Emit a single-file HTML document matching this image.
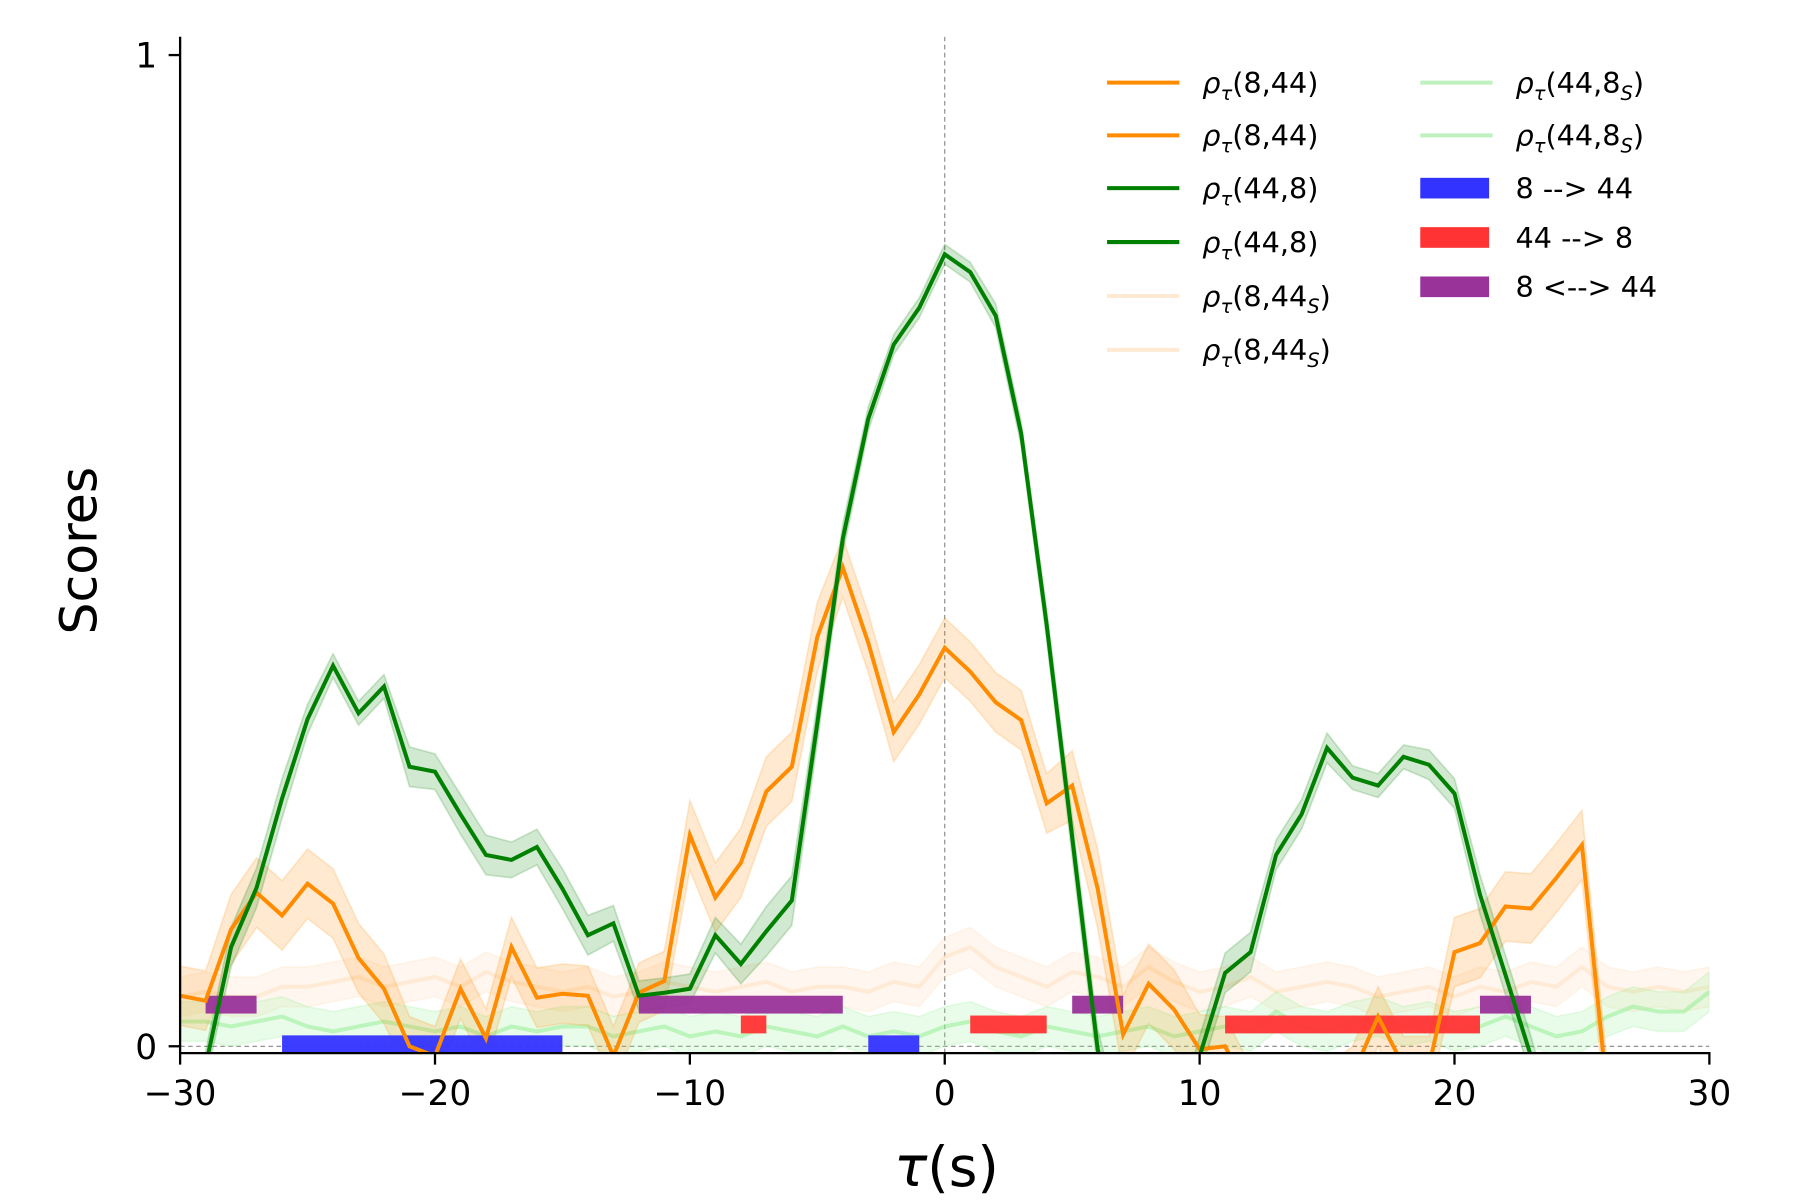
<!DOCTYPE html>
<html><head><meta charset="utf-8"><style>
html,body{margin:0;padding:0;background:#fff;}
svg{display:block;font-family:"DejaVu Sans","Liberation Sans",sans-serif;}
</style></head><body>
<svg id="chart" width="1800" height="1200" viewBox="0 0 1569 1046" xmlns="http://www.w3.org/2000/svg">
<defs><clipPath id="plotclip"><rect x="157" y="32" width="1333" height="886"/></clipPath></defs>
<g id="plot" clip-path="url(#plotclip)"></g>
<g id="axes"></g>
<g id="legend"></g>
</svg>
<script>
const taus = [-30,-29,-28,-27,-26,-25,-24,-23,-22,-21,-20,-19,-18,-17,-16,-15,-14,-13,-12,-11,-10,-9,-8,-7,-6,-5,-4,-3,-2,-1,0,1,2,3,4,5,6,7,8,9,10,11,12,13,14,15,16,17,18,19,20,21,22,23,24,25,26,27,28,29,30];
const green = [-0.15,-0.02,0.1,0.16,0.25,0.33,0.384,0.336,0.363,0.282,0.277,0.234,0.193,0.188,0.201,0.159,0.112,0.124,0.051,0.054,0.058,0.112,0.083,0.116,0.147,0.326,0.512,0.633,0.708,0.745,0.799,0.781,0.737,0.618,0.425,0.211,-0.003,-0.1,-0.1,-0.1,-0.01,0.074,0.095,0.193,0.234,0.301,0.271,0.263,0.292,0.284,0.255,0.153,0.072,-0.01,-0.1,-0.1,-0.1,-0.1,-0.1,-0.1,-0.1];
const greenErr = [0.015,0.015,0.02,0.02,0.02,0.015,0.012,0.012,0.012,0.02,0.018,0.02,0.02,0.018,0.018,0.02,0.02,0.018,0.015,0.015,0.015,0.018,0.02,0.025,0.025,0.02,0.015,0.012,0.01,0.01,0.01,0.01,0.012,0.012,0.015,0.02,0.02,0.02,0.02,0.02,0.02,0.02,0.02,0.015,0.015,0.015,0.012,0.012,0.012,0.015,0.015,0.02,0.02,0.02,0.02,0.02,0.02,0.02,0.02,0.02,0.02];
const orange = [0.051,0.046,0.118,0.155,0.132,0.164,0.144,0.089,0.058,0,-0.01,0.058,0.008,0.1,0.049,0.053,0.051,-0.01,0.054,0.066,0.213,0.15,0.185,0.257,0.282,0.413,0.483,0.407,0.317,0.355,0.402,0.378,0.347,0.329,0.245,0.263,0.159,0.012,0.063,0.037,-0.003,0,-0.05,-0.05,-0.05,-0.05,-0.03,0.03,-0.02,-0.02,0.095,0.104,0.141,0.139,0.17,0.203,-0.05,-0.05,-0.05,-0.05,-0.05];
const orangeErr = [0.03,0.03,0.035,0.035,0.035,0.035,0.035,0.035,0.035,0.03,0.03,0.03,0.03,0.03,0.03,0.03,0.03,0.03,0.03,0.03,0.035,0.035,0.035,0.035,0.035,0.035,0.03,0.03,0.03,0.03,0.03,0.03,0.03,0.03,0.03,0.035,0.04,0.04,0.04,0.04,0.035,0.03,0.03,0.03,0.03,0.03,0.03,0.03,0.03,0.03,0.035,0.035,0.035,0.035,0.035,0.035,0.03,0.03,0.03,0.03,0.03];
const orangeSur = [0.05,0.055,0.05,0.05,0.06,0.06,0.065,0.07,0.06,0.065,0.07,0.06,0.075,0.065,0.06,0.055,0.06,0.05,0.055,0.065,0.06,0.055,0.06,0.065,0.055,0.06,0.06,0.055,0.065,0.06,0.09,0.1,0.08,0.07,0.06,0.075,0.07,0.06,0.08,0.065,0.055,0.06,0.07,0.055,0.06,0.065,0.06,0.05,0.055,0.06,0.05,0.06,0.055,0.065,0.06,0.08,0.06,0.055,0.06,0.055,0.06];
const greenSur = [0.025,0.025,0.02,0.025,0.03,0.02,0.015,0.02,0.025,0.02,0.015,0.02,0.01,0.02,0.015,0.02,0.02,0.01,0.015,0.02,0.01,0.015,0.01,0.02,0.015,0.01,0.02,0.01,0.015,0.01,0.02,0.025,0.015,0.01,0.02,0.015,0.01,0.015,0.02,0.01,0.015,0.02,0.015,0.035,0.02,0.015,0.025,0.03,0.02,0.025,0.015,0.02,0.03,0.02,0.01,0.015,0.03,0.04,0.035,0.035,0.055];
const barStarts = [-26,-3,-8,1,11,-29,-12,5,21];
const barEnds = [-15,-1,-7,4,21,-27,-4,7,23];
const barKinds = [0,0,1,1,1,2,2,2,2];
const barLevels = [0.002,0.022,0.042];
const barColors = ['#3333ff','#ff3333','#993399'];
const xTicks = [-30,-20,-10,0,10,20,30];
const xTickLabels = ['\u221230','\u221220','\u221210','0','10','20','30'];
const yTicks = [0,1];
const yTickLabels = ['0','1'];

const NS='http://www.w3.org/2000/svg';
const X0=157,X1=1490,Y0=912,Y1=48;
function sx(t){return X0+(t+30)/60*(X1-X0);}
function sy(v){return Y0-v*(Y0-Y1);}
function mk(tag,attrs,parent){const e=document.createElementNS(NS,tag);for(const k in attrs)e.setAttribute(k,attrs[k]);parent.appendChild(e);return e;}
const plot=document.getElementById('plot'),axes=document.getElementById('axes'),legend=document.getElementById('legend');

let e=mk('line',{x1:sx(0),x2:sx(0),y1:32,y2:918,stroke:'#888','stroke-width':1,'stroke-dasharray':'4,3'},plot);


e=mk('line',{x1:X0,x2:X1,y1:sy(0),y2:sy(0),stroke:'#888','stroke-width':1,'stroke-dasharray':'4,3'},plot);



function band(vals,err,color,op,name){
  let up=taus.map((t,i)=>sx(t)+','+sy(vals[i]+err[i]));
  let dn=taus.map((t,i)=>sx(t)+','+sy(vals[i]-err[i])).reverse();
  const p=mk('polygon',{points:up.concat(dn).join(' '),fill:color,'fill-opacity':op,stroke:color,'stroke-opacity':op,'stroke-width':1.5},plot);
  
  
}
function line(vals,color,op,w,name){
  const p=mk('polyline',{points:taus.map((t,i)=>sx(t)+','+sy(vals[i])).join(' '),fill:'none',stroke:color,'stroke-opacity':op,'stroke-width':w,'stroke-linejoin':'miter'},plot);
  
  
}
const surErr=taus.map(()=>0.02);
band(orangeSur,surErr,'#ffa54f',0.09,'orange-surrogate-band');
line(orangeSur,'#ffe0c0',0.55,3.5,'orange-surrogate-line');
band(greenSur,surErr,'#90ee90',0.2,'green-surrogate-band');
line(greenSur,'#90ee90',0.5,3.5,'green-surrogate-line');
band(orange,orangeErr,'#ff8c00',0.18,'orange-band');
band(green,greenErr,'#008000',0.18,'green-band');

for(let i=0;i<barStarts.length;i++){
  const k=barKinds[i],h=0.018;
  const r=mk('rect',{x:sx(barStarts[i]),width:sx(barEnds[i])-sx(barStarts[i]),y:sy(barLevels[k]+h/2),height:h*(Y0-Y1),fill:barColors[k],'fill-opacity':0.95},plot);
  
  
}
line(orange,'#ff8c00',1,3.5,'orange-line-8-44');
line(green,'#008000',1,3.5,'green-line-44-8');

e=mk('line',{x1:X0,x2:X0,y1:32,y2:918,stroke:'#000','stroke-width':2},axes);


e=mk('line',{x1:X0-1,x2:X1+1,y1:918,y2:918,stroke:'#000','stroke-width':2},axes);


xTicks.forEach((t,i)=>{
  let l=mk('line',{x1:sx(t),x2:sx(t),y1:918,y2:928,stroke:'#000','stroke-width':2},axes);
  
  
  let tx=mk('text',{x:sx(t),y:963,'text-anchor':'middle','font-size':30},axes);
  tx.textContent=xTickLabels[i];
  
  
});
yTicks.forEach((v,i)=>{
  let l=mk('line',{x1:X0-10,x2:X0,y1:sy(v),y2:sy(v),stroke:'#000','stroke-width':2},axes);
  
  
  let tx=mk('text',{x:X0-20,y:sy(v)+11,'text-anchor':'end','font-size':30},axes);
  tx.textContent=yTickLabels[i];
  
  
});
e=mk('text',{x:0,y:0,'text-anchor':'middle','font-size':44,transform:'translate(84,480) rotate(-90)'},axes);
e.textContent='Scores';


e=mk('text',{x:825,y:1034,'text-anchor':'middle','font-size':48},axes);
e.innerHTML='<tspan font-style="italic">τ</tspan>(s)';



const legItems=[
 [965,72,'line','#ff8c00',1,'(8,44)',''],
 [965,118,'line','#ff8c00',1,'(8,44)',''],
 [965,164,'line','#008000',1,'(44,8)',''],
 [965,211,'line','#008000',1,'(44,8)',''],
 [965,258,'line','#ffe4c8',0.8,'(8,44','S'],
 [965,305,'line','#ffe4c8',0.8,'(8,44','S'],
 [1238,72,'line','#b8f0b8',0.9,'(44,8','S'],
 [1238,118,'line','#b8f0b8',0.9,'(44,8','S'],
 [1238,164,'rect','#3333ff',1,'8 --> 44',null],
 [1238,207,'rect','#ff3333',1,'44 --> 8',null],
 [1238,250,'rect','#993399',1,'8 <--> 44',null]];
legItems.forEach(it=>{
  const [x,y,kind,c,op,lab,sub]=it;
  let m;
  if(kind==='line') m=mk('line',{x1:x,x2:x+63,y1:y,y2:y,stroke:c,'stroke-opacity':op,'stroke-width':3.5},legend);
  else m=mk('rect',{x:x,y:y-9,width:60,height:18,fill:c},legend);
  
  
  const t=mk('text',{x:x+83,y:y+9,'font-size':25},legend);
  if(sub===null) t.textContent=lab;
  else t.innerHTML='<tspan font-style="italic">ρ</tspan><tspan font-style="italic" font-size="17" dy="6">τ</tspan><tspan dy="-6">'+lab+'</tspan>'+(sub?'<tspan font-style="italic" font-size="17" dy="6">'+sub+'</tspan><tspan dy="-6">)</tspan>':'');
  
  
});
</script>
</body></html>
